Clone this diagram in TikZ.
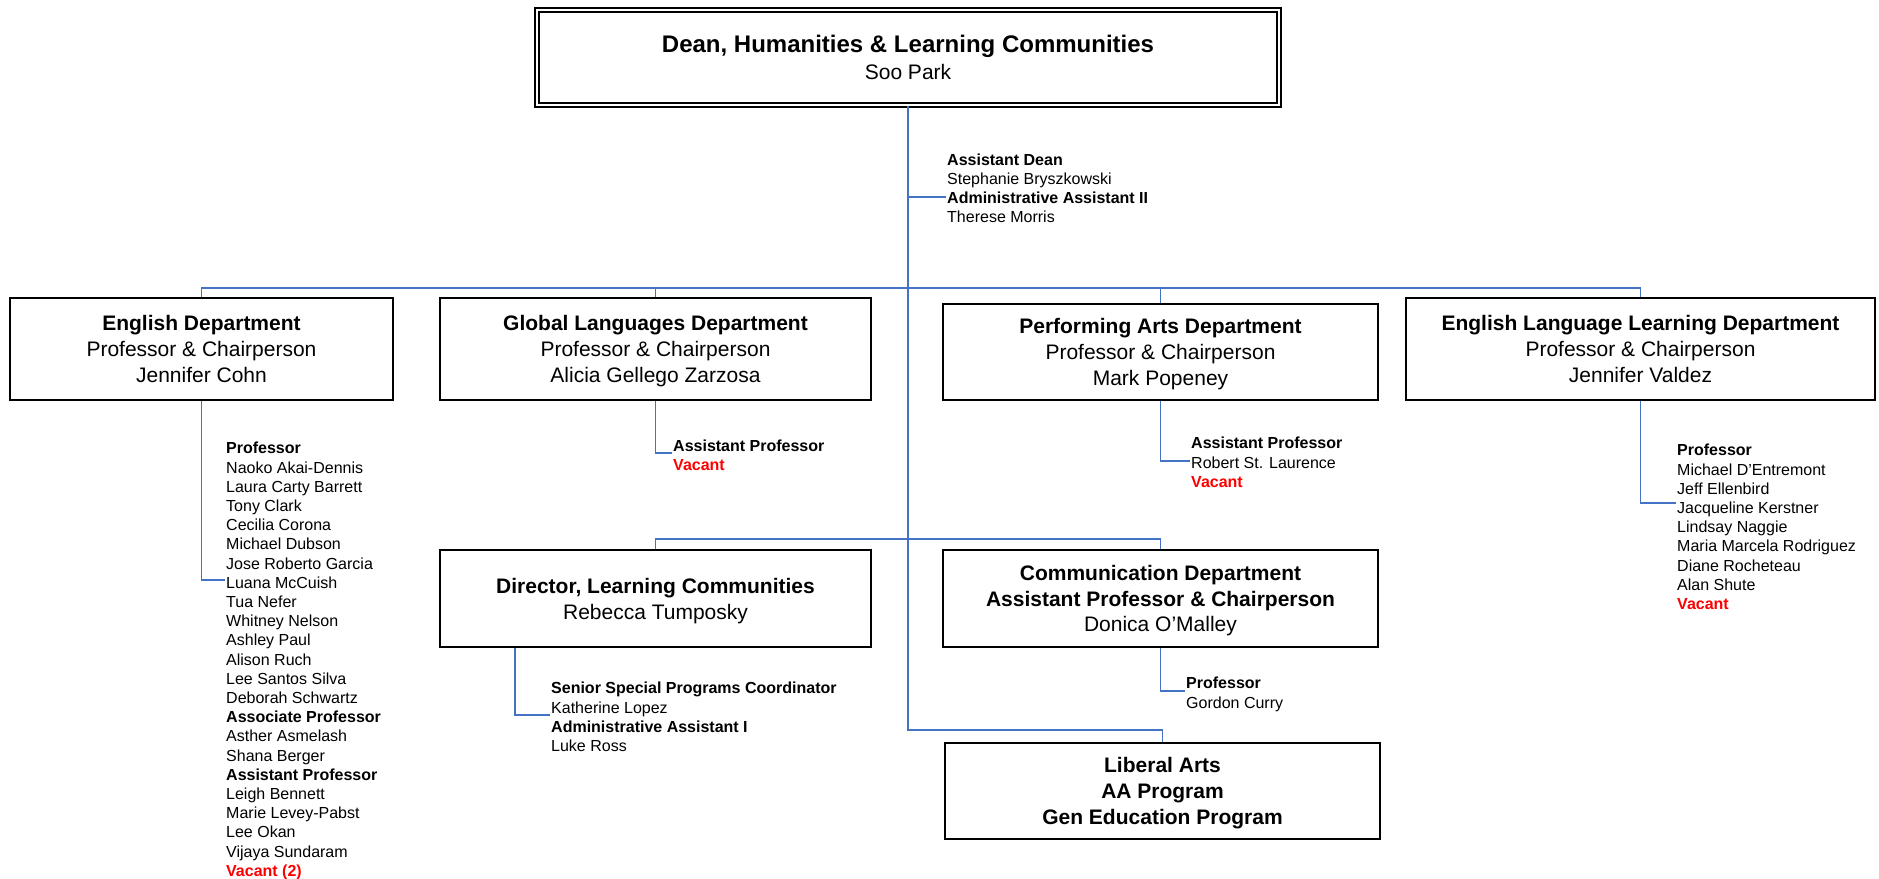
\documentclass[tikz,border=0pt]{standalone}
\usepackage{fontspec}
\setmainfont{Liberation Sans}
\usepackage{tikz}
\usetikzlibrary{positioning}
\definecolor{linkblue}{HTML}{4472C4}

\begin{document}
\begin{tikzpicture}[x=1pt,y=-1pt,
                    dept/.style={draw,line width=1.8pt,inner sep=0pt,align=center,text depth=-4pt,
                                 font=\fontsize{21}{25.8}\selectfont},
                    list/.style={inner sep=0pt,anchor=north west,align=left,
                                 font=\fontsize{16}{19.2}\selectfont},
                    link/.style={draw=linkblue,line width=1.6pt}]
  \useasboundingbox (0,0) rectangle (1879,878);

  \node[dept,double,double distance=2.5pt,line width=1.5pt,text depth=-8pt,
        font=\fontsize{21}{27}\selectfont,
        minimum width=742pt,minimum height=95pt] (dean) at (908,57.5)
       {{\fontsize{24}{27}\selectfont\bfseries Dean, Humanities \& Learning Communities}\\Soo Park};

  \node[dept,minimum width=383pt,minimum height=102pt] (eng) at (201.5,349)
       {\textbf{English Department}\\Professor \& Chairperson\\Jennifer Cohn};
  \node[dept,minimum width=431pt,minimum height=102pt] (glob) [right of=eng,node distance=454pt]
       {\textbf{Global Languages Department}\\Professor \& Chairperson\\Alicia Gellego Zarzosa};
  \node[dept,minimum width=435pt,minimum height=96pt] (perf) [right of=glob,node distance=505pt,yshift=-3pt]
       {\textbf{Performing Arts Department}\\Professor \& Chairperson\\Mark Popeney};
  \node[dept,minimum width=469pt,minimum height=102pt] (ell) [right of=perf,node distance=480pt,yshift=3pt]
       {\textbf{English Language Learning Department}\\Professor \& Chairperson\\Jennifer Valdez};

  \node[dept,minimum width=431pt,minimum height=97pt] (dir) [below of=glob,node distance=249.5pt]
       {\textbf{Director, Learning Communities}\\Rebecca Tumposky};
  \node[dept,minimum width=435pt,minimum height=97pt] (comm) [below of=perf,node distance=246.5pt]
       {\textbf{Communication Department}\\\textbf{Assistant Professor \& Chairperson}\\Donica O’Malley};
  \node[dept,minimum width=435pt,minimum height=96pt] (lib) [below of=comm,node distance=192.5pt,xshift=2pt]
       {\textbf{Liberal Arts}\\\textbf{AA Program}\\\textbf{Gen Education Program}};

  \node[list] (deanlist) at (947,153.5)
       {\textbf{Assistant Dean}\\Stephanie Bryszkowski\\\textbf{Administrative Assistant II}\\Therese Morris};
  \node[list] (englist) at (226,442)
       {\textbf{Professor}\\Naoko Akai-Dennis\\Laura Carty Barrett\\Tony Clark\\Cecilia Corona\\
        Michael Dubson\\Jose Roberto Garcia\\Luana McCuish\\Tua Nefer\\Whitney Nelson\\
        Ashley Paul\\Alison Ruch\\Lee Santos Silva\\Deborah Schwartz\\
        \textbf{Associate Professor}\\Asther Asmelash\\Shana Berger\\
        \textbf{Assistant Professor}\\Leigh Bennett\\Marie Levey-Pabst\\Lee Okan\\Vijaya Sundaram\\
        \textcolor{red}{\textbf{Vacant (2)}}};
  \node[list] (globlist) at (673,440)
       {\textbf{Assistant Professor}\\\textcolor{red}{\textbf{Vacant}}};
  \node[list] (perflist) at (1191,437)
       {\textbf{Assistant Professor}\\Robert St. Laurence\\\textcolor{red}{\textbf{Vacant}}};
  \node[list] (elllist) at (1677,444)
       {\textbf{Professor}\\Michael D’Entremont\\Jeff Ellenbird\\Jacqueline Kerstner\\Lindsay Naggie\\
        Maria Marcela Rodriguez\\Diane Rocheteau\\Alan Shute\\\textcolor{red}{\textbf{Vacant}}};
  \node[list] (dirlist) at (551,682)
       {\textbf{Senior Special Programs Coordinator}\\Katherine Lopez\\\textbf{Administrative Assistant I}\\Luke Ross};
  \node[list] (commlist) at (1186,677)
       {\textbf{Professor}\\Gordon Curry};

  \coordinate (bus) at (908,288);
  \coordinate (mid) at (908,539);
  \coordinate (low) at (908,730);
  \coordinate (deanlink) at (946,197);
  \coordinate (englink) at (225,580);
  \coordinate (globlink) at (672,453);
  \coordinate (perflink) at (1190,461);
  \coordinate (elllink) at (1676,503);
  \coordinate (dirlink) at (550,715);
  \coordinate (commlink) at (1185,691);

  \draw[link] (dean.south) -- (low) -| (lib.north);
  \draw[link] (dean.south |- deanlink) -- (deanlink);
  \draw[link] (eng.north) |- (bus) -| (ell.north);
  \draw[link] (glob.north) -- (glob.north |- bus);
  \draw[link] (perf.north) -- (perf.north |- bus);
  \draw[link] (dir.north) |- (mid) -| (comm.north);

  \draw[link] (eng.south) |- (englink);
  \draw[link] (glob.south) |- (globlink);
  \draw[link] (perf.south) |- (perflink);
  \draw[link] (ell.south) |- (elllink);
  \draw[link] ([xshift=-140.5pt]dir.south) |- (dirlink);
  \draw[link] (comm.south) |- (commlink);
\end{tikzpicture}
\end{document}
